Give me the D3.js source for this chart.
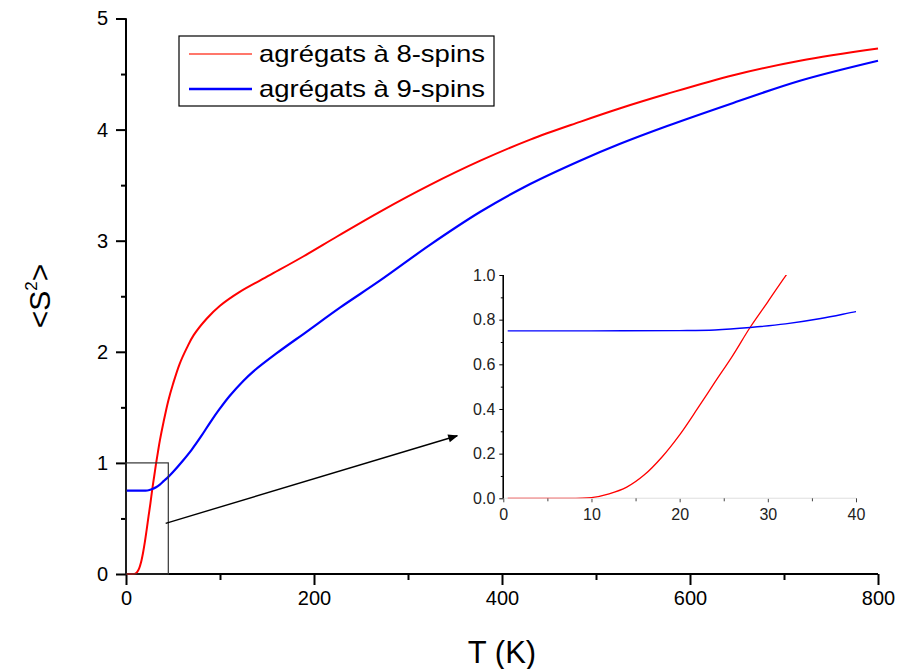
<!DOCTYPE html>
<html><head><meta charset="utf-8">
<script src="https://cdn.jsdelivr.net/npm/d3@7"></script>
<style>body{margin:0;background:#fff}svg{display:block;font-family:"Liberation Sans",Arial,sans-serif}</style>
</head><body>
<svg id="c" width="911" height="669"></svg>
<script>
// ---- data ----
const seriesNames = ["agrégats à 8-spins", "agrégats à 9-spins"];
const T8 = [0.5,5,10,12,14,16,18,20,22,24,26,28,30,32,34,36,40,45,50,57,65,72,86,100,121,153,189,225,270,323,377,430,483,525,575,646,717,800];
const S8 = [0,0,0.003,0.02,0.05,0.105,0.185,0.284,0.40,0.52,0.638,0.766,0.88,0.995,1.1,1.2,1.37,1.56,1.71,1.89,2.04,2.15,2.30,2.415,2.54,2.69,2.86,3.04,3.26,3.50,3.72,3.91,4.07,4.19,4.32,4.49,4.62,4.73];
const T9 = [0.5,10,20,24,28,32,36,40,45,50,60,70,80,90,100,110,125,135,160,192,228,270,323,377,430,483,525,575,646,717,800];
const S9 = [0.75,0.75,0.751,0.754,0.765,0.781,0.805,0.836,0.874,0.918,1.015,1.12,1.24,1.37,1.49,1.60,1.74,1.82,1.985,2.18,2.40,2.64,2.96,3.26,3.51,3.72,3.87,4.03,4.24,4.44,4.62];
const xTicksMain = [0,200,400,600,800];
const xMinorMain = [100,300,500,700];
const yTicksMain = [0,1,2,3,4,5];
const yMinorMain = [0.5,1.5,2.5,3.5,4.5];
const xTicksInset = [0,10,20,30,40];
const xMinorInset = [5,15,25,35];
const yTicksInset = [0,0.2,0.4,0.6,0.8,1.0];
const yMinorInset = [0.1,0.3,0.5,0.7,0.9];
const zoomBox = {t0:0, t1:45, s0:0, s1:1};
const arrowPts = [[42.2,0.456],[352.4,1.244]];
const colors = ["#ff0000","#0000ff"];

const svg = d3.select("#c");
const defs = svg.append("defs");
defs.append("marker").attr("id","ah").attr("viewBox","0 0 10 10").attr("refX",9).attr("refY",5)
  .attr("orient","auto").attr("markerUnits","userSpaceOnUse")
  .attr("markerWidth",18).attr("markerHeight",10)
  .append("path").attr("d","M0,1 L10,5 L0,9 Z").attr("fill","#000");

// ---- main scales ----
const x = d3.scaleLinear().domain([0,800]).range([126,878]);
const y = d3.scaleLinear().domain([0,5]).range([574,18.5]);

const s8 = T8.map((t,i)=>[t,S8[i]]);
const s9 = T9.map((t,i)=>[t,S9[i]]);

// axes
const gx = svg.append("g").attr("transform","translate(0,574)");
gx.call(d3.axisBottom(x).tickValues(xTicksMain).tickSize(11).tickPadding(6).tickFormat(d3.format("d")));
gx.append("g").call(d3.axisBottom(x).tickValues(xMinorMain).tickSize(6).tickFormat(""));
gx.selectAll("path.domain").attr("stroke","#000").attr("stroke-width",2).attr("d","M126,0H878");
gx.selectAll("g.tick line").attr("stroke","#000").attr("stroke-width",2);
gx.selectAll("text").attr("font-size",20).attr("fill","#000").attr("font-family","Liberation Sans, Arial");

const gy = svg.append("g").attr("transform","translate(126,0)");
gy.call(d3.axisLeft(y).tickValues(yTicksMain).tickSize(10).tickPadding(8).tickFormat(d3.format("d")));
gy.append("g").call(d3.axisLeft(y).tickValues(yMinorMain).tickSize(5).tickFormat(""));
gy.selectAll("path.domain").attr("stroke","#000").attr("stroke-width",2).attr("d","M0,574V18.5");
gy.selectAll("g.tick line").attr("stroke","#000").attr("stroke-width",2);
gy.selectAll("text").attr("font-size",20).attr("fill","#000").attr("font-family","Liberation Sans, Arial");

// axis titles
svg.append("text").attr("x",502).attr("y",663).attr("text-anchor","middle").attr("font-size",31).text("T (K)");
const yl = svg.append("text").attr("transform","translate(50,296) rotate(-90)").attr("text-anchor","middle").attr("font-size",30);
yl.append("tspan").text("<S");
yl.append("tspan").attr("font-size",17).attr("dy",-13).text("2");
yl.append("tspan").attr("dy",13).text(">");

// main lines
const line = d3.line().x(d=>x(d[0])).y(d=>y(d[1])).curve(d3.curveCatmullRom.alpha(0.5));
svg.append("path").datum(s8).attr("d",line).attr("fill","none").attr("stroke",colors[0]).attr("stroke-width",2);
svg.append("path").datum(s9).attr("d",line).attr("fill","none").attr("stroke",colors[1]).attr("stroke-width",2.2);

// zoom box
svg.append("rect").attr("x",x(zoomBox.t0)).attr("y",y(zoomBox.s1))
  .attr("width",x(zoomBox.t1)-x(zoomBox.t0)).attr("height",y(zoomBox.s0)-y(zoomBox.s1))
  .attr("fill","none").attr("stroke","#333").attr("stroke-width",1.2);

// arrow
svg.append("line").attr("x1",x(arrowPts[0][0])).attr("y1",y(arrowPts[0][1]))
  .attr("x2",x(arrowPts[1][0])).attr("y2",y(arrowPts[1][1]))
  .attr("stroke","#000").attr("stroke-width",1.4).attr("marker-end","url(#ah)");

// legend
const lg = svg.append("g");
lg.append("rect").attr("x",179).attr("y",36).attr("width",315).attr("height",70).attr("fill","#fff").attr("stroke","#000").attr("stroke-width",1.2);
[0,1].forEach(i=>{
  const yy = 54 + i*35;
  lg.append("line").attr("x1",189).attr("x2",252).attr("y1",yy).attr("y2",yy)
    .attr("stroke", i===0 ? "#ff4a3a" : colors[1]).attr("stroke-width", i===0 ? 1.5 : 2.5);
  lg.append("text").attr("x",259).attr("y",yy+8).attr("font-size",24)
    .attr("textLength",226).attr("lengthAdjust","spacingAndGlyphs").text(seriesNames[i]);
});

// ---- inset ----
const xi = d3.scaleLinear().domain([0,40]).range([503.3,856]);
const yi = d3.scaleLinear().domain([0,1]).range([498.3,275]);
defs.append("clipPath").attr("id","ic").append("rect")
  .attr("x",503.3).attr("y",275).attr("width",856-503.3).attr("height",498.3-275);

const gxi = svg.append("g").attr("transform","translate(0,498.3)");
gxi.call(d3.axisBottom(xi).tickValues(xTicksInset).tickSize(4).tickPadding(6).tickFormat(d3.format("d")));
gxi.append("g").call(d3.axisBottom(xi).tickValues(xMinorInset).tickSize(3).tickFormat(""));
gxi.selectAll("path.domain").attr("stroke","#e6e6e6").attr("stroke-width",1).attr("d","M503.3,0H856");
gxi.selectAll("g.tick line").attr("stroke","#444").attr("stroke-width",1);
gxi.selectAll("text").attr("font-size",16).attr("fill","#222");

const gyi = svg.append("g").attr("transform","translate(503.3,0)");
gyi.call(d3.axisLeft(yi).tickValues(yTicksInset).tickSize(4).tickPadding(4).tickFormat(d3.format(".1f")));
gyi.append("g").call(d3.axisLeft(yi).tickValues(yMinorInset).tickSize(2.5).tickFormat(""));
gyi.selectAll("path.domain").attr("stroke","#000").attr("stroke-width",1.3).attr("d","M0,498.3V275");
gyi.selectAll("g.tick line").attr("stroke","#000").attr("stroke-width",1);
gyi.selectAll("text").attr("font-size",16).attr("fill","#222");

const linei = d3.line().x(d=>xi(d[0])).y(d=>yi(d[1])).curve(d3.curveCatmullRom.alpha(0.5));
const gi = svg.append("g").attr("clip-path","url(#ic)");
gi.append("path").datum(s8).attr("d",linei).attr("fill","none").attr("stroke",colors[0]).attr("stroke-width",1.3);
gi.append("path").datum(s9).attr("d",linei).attr("fill","none").attr("stroke",colors[1]).attr("stroke-width",1.4);
</script>
</body></html>
